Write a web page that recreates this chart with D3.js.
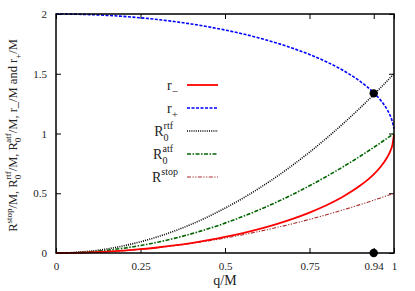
<!DOCTYPE html>
<html>
<head>
<meta charset="utf-8">
<script src="https://cdn.jsdelivr.net/npm/d3@7"></script>
<style>
  body { margin: 0; background: #fff; }
  svg text { font-family: "Liberation Serif", "Times New Roman", Times, "DejaVu Serif", serif; fill: #222; }
</style>
</head>
<body>
<svg id="j-svg" width="415" height="291" viewBox="0 0 415 291"></svg>
<script>
'use strict';

// values
var q = [0, 0.05, 0.1, 0.15, 0.2, 0.25, 0.3, 0.35, 0.4, 0.45, 0.5, 0.55, 0.6, 0.65, 0.7,
  0.75, 0.8, 0.85, 0.9, 0.92, 0.94, 0.96, 0.98, 0.99, 0.995, 1];
var rMinus = [0, 0.00125, 0.00501, 0.01131, 0.0202, 0.03175, 0.04606, 0.06325, 0.08348, 0.10697,
  0.13397, 0.16484, 0.2, 0.24007, 0.28586, 0.33856, 0.4, 0.47322, 0.56411, 0.60808, 0.65883,
  0.72, 0.801, 0.85893, 0.90013, 0.99];
var rPlus = [2, 1.99875, 1.99499, 1.98869, 1.9798, 1.96825, 1.95394, 1.93675, 1.91652, 1.89303,
  1.86603, 1.83516, 1.8, 1.75993, 1.71414, 1.66144, 1.6, 1.52678, 1.43589, 1.39192, 1.34117,
  1.28, 1.199, 1.14107, 1.09987, 1.04];
var r0rtf = [0, 0.00375, 0.015, 0.03375, 0.06, 0.09375, 0.135, 0.18375, 0.24, 0.30375, 0.375,
  0.45375, 0.54, 0.63375, 0.735, 0.84375, 0.96, 1.08375, 1.215, 1.2696, 1.3254, 1.3824, 1.4406,
  1.47015, 1.48504, 1.5];
var r0atf = [0, 0.0025, 0.01, 0.0225, 0.04, 0.0625, 0.09, 0.1225, 0.16, 0.2025, 0.25, 0.3025,
  0.36, 0.4225, 0.49, 0.5625, 0.64, 0.7225, 0.81, 0.8464, 0.8836, 0.9216, 0.9604, 0.9801,
  0.990025, 1];
var rStop = [0, 0.00125, 0.005, 0.01125, 0.02, 0.03125, 0.045, 0.06125, 0.08, 0.10125, 0.125,
  0.15125, 0.18, 0.21125, 0.245, 0.28125, 0.32, 0.36125, 0.405, 0.4232, 0.4418, 0.4608, 0.4802,
  0.49005, 0.49501, 0.5];
var dotsQ = [0.94, 0.94];
var dotsY = [1.336, 0];
var xTicks = [0, 0.25, 0.5, 0.75, 0.94, 1];
var xTickLabels = ['0', '0.25', '0.5', '0.75', '0.94', '1'];
var yTicks = [0, 0.5, 1, 1.5, 2];
var yTickLabels = ['0', '0.5', '1', '1.5', '2'];

var svg = d3.select('#j-svg');
var margins = { top: 14, right: 21, bottom: 38, left: 56 };
var width = 415 - margins.left - margins.right;
var height = 291 - margins.top - margins.bottom;

var g = svg.append('g').attr('transform', 'translate(' + margins.left + ',' + margins.top + ')');

var x = d3.scaleLinear().domain([0, 1]).range([0, width]);
var y = d3.scaleLinear().domain([0, 2]).range([height, 0]);

var xAxis = d3.axisBottom(x).tickValues(xTicks).tickSize(-5).tickPadding(9)
  .tickFormat(function (d, i) { return xTickLabels[i]; });
var yAxis = d3.axisLeft(y).tickValues(yTicks).tickSize(-5).tickPadding(9)
  .tickFormat(function (d, i) { return yTickLabels[i]; });

g.append('g').attr('class', 'x-axis').attr('transform', 'translate(0,' + height + ')').call(xAxis);
g.append('g').attr('class', 'y-axis').call(yAxis);
g.append('g').attr('class', 'x-top').call(d3.axisTop(x).tickValues(xTicks).tickSize(-5).tickFormat(''));
g.append('g').attr('class', 'y-right').attr('transform', 'translate(' + width + ',0)')
  .call(d3.axisRight(y).tickValues(yTicks).tickSize(-5).tickFormat(''));

g.selectAll('.domain').remove();
g.selectAll('.tick line').attr('stroke', '#000').attr('stroke-width', 1);
g.selectAll('.tick text').style('font-size', '11px').attr('fill', '#333');

// curves
var series = [
  { name: 'rPlus', vals: rPlus, color: '#0000ff', width: 1.6, dash: '3,1.5' },
  { name: 'r0rtf', vals: r0rtf, color: '#000000', width: 1.6, dash: '1,1.2' },
  { name: 'r0atf', vals: r0atf, color: '#006400', width: 1.6, dash: '4,1.5,1.5,1.5' },
  { name: 'rStop', vals: rStop, color: '#a52a2a', width: 1.1, dash: '4,1.5,1.2,1.5,1.2,1.5' },
  { name: 'rMinus', vals: rMinus, color: '#ff0000', width: 1.8, dash: null }
];

var line = d3.line().curve(d3.curveMonotoneX)
  .x(function (d) { return x(d[0]); })
  .y(function (d) { return y(d[1]); });

series.forEach(function (s) {
  g.append('path')
    .datum(q.map(function (v, i) { return [v, s.vals[i]]; }))
    .attr('fill', 'none')
    .attr('stroke', s.color)
    .attr('stroke-width', s.width)
    .attr('stroke-dasharray', s.dash)
    .attr('d', line);
});

g.selectAll('circle.dot').data(dotsQ).enter().append('circle')
  .attr('class', 'dot')
  .attr('cx', function (d) { return x(d); })
  .attr('cy', function (d, i) { return y(dotsY[i]); })
  .attr('r', 4.2)
  .attr('fill', '#000');

// frame
g.append('rect').attr('width', width).attr('height', height)
  .attr('fill', 'none').attr('stroke', '#000').attr('stroke-width', 1.5);

// legend
var legend = [
  { main: 'r', sub: '\u2212', sup: null, s: series[4] },
  { main: 'r', sub: '+', sup: null, s: series[0] },
  { main: 'R', sub: '0', sup: 'rtf', s: series[1] },
  { main: 'R', sub: '0', sup: 'atf', s: series[2] },
  { main: 'R', sub: null, sup: 'stop', s: series[3] }
];
var lg = g.selectAll('g.leg').data(legend).enter().append('g')
  .attr('class', 'leg')
  .attr('transform', function (d, i) { return 'translate(0,' + (71 + i * 23) + ')'; });

lg.append('line')
  .attr('x1', 131).attr('x2', 162)
  .attr('stroke', function (d) { return d.s.color; })
  .attr('stroke-width', function (d) { return d.s.width; })
  .attr('stroke-dasharray', function (d) { return d.s.dash; });

lg.each(function (d) {
  var t = d3.select(this).append('text').attr('y', 5).style('font-size', '14px');
  t.append('tspan').text(d.main);
  if (d.sup && d.sub) {
    // stacked sub and sup
    t.append('tspan').attr('dy', 5).style('font-size', '10px').text(d.sub);
    t.append('tspan').attr('dx', -5).attr('dy', -12).style('font-size', '10px').text(d.sup);
  } else if (d.sub) {
    t.append('tspan').attr('dy', 5).style('font-size', '11px').text(d.sub);
  } else if (d.sup) {
    t.append('tspan').attr('dy', -7).style('font-size', '10px').text(d.sup);
  }
  var w = t.node().getComputedTextLength();
  t.attr('x', 122 - w);
});

// axis titles
svg.append('text')
  .attr('x', margins.left + width / 2).attr('y', 285)
  .attr('text-anchor', 'middle').style('font-size', '14px')
  .text('q/M');

var yt = svg.append('text')
  .attr('transform', 'translate(17,' + (margins.top + height / 2 + 2) + ') rotate(-90)')
  .attr('text-anchor', 'middle').style('font-size', '12.5px');
yt.append('tspan').text('R');
yt.append('tspan').attr('dy', -5).style('font-size', '9px').text('stop');
yt.append('tspan').attr('dy', 5).text('/M, R');
yt.append('tspan').attr('dy', 4).style('font-size', '9px').text('0');
yt.append('tspan').attr('dx', -5).attr('dy', -10).style('font-size', '9px').text('rtf');
yt.append('tspan').attr('dy', 6).text('/M, R');
yt.append('tspan').attr('dy', 4).style('font-size', '9px').text('0');
yt.append('tspan').attr('dx', -5).attr('dy', -10).style('font-size', '9px').text('atf');
yt.append('tspan').attr('dy', 6).text('/M,  r_/M and r');
yt.append('tspan').attr('dy', 4).style('font-size', '9px').text('+');
yt.append('tspan').attr('dy', -4).text('/M');
</script>
</body>
</html>
